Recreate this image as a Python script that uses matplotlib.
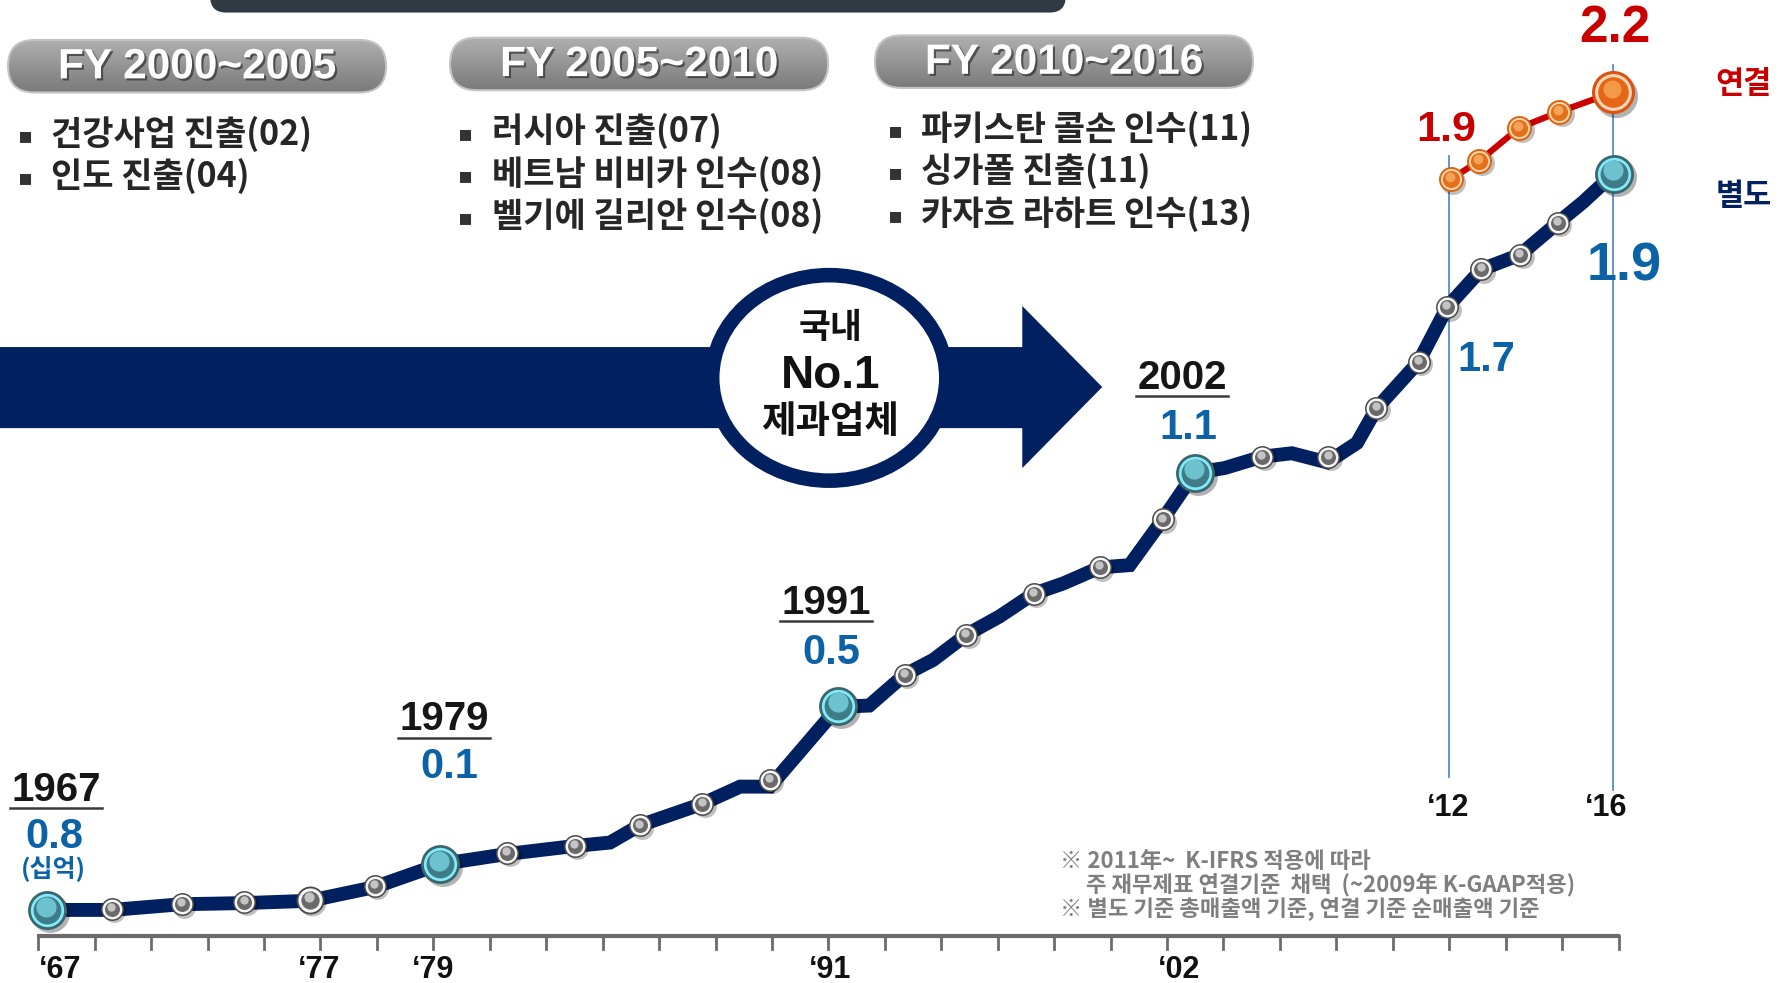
import matplotlib
matplotlib.use("Agg")
import matplotlib.pyplot as plt
import matplotlib.patheffects as pe
from matplotlib.patches import FancyBboxPatch, Ellipse, Polygon
from matplotlib.colors import LinearSegmentedColormap
from matplotlib.transforms import offset_copy
import numpy as np

KR = ['Noto Sans CJK KR', 'DejaVu Sans']
NUM = ['Liberation Sans', 'DejaVu Sans']
NAVY = '#002060'
BLUE = '#0b62a6'
RED = '#c80000'

# --- data (timeline position, height on the sketch) ---
# 별도 (separate) sales path
sep_x = [41, 98, 159, 214, 271, 328, 385, 444, 503, 534, 560, 615, 648, 674,
         734, 761, 792, 817, 846, 875, 905, 931, 963, 989, 1018, 1046, 1072,
         1105, 1131, 1162, 1188, 1205, 1213, 1242, 1267, 1297, 1331, 1364,
         1386, 1413]
sep_y = [797, 797, 792, 791, 789, 777, 757, 748, 741, 738, 723, 704, 689, 689,
         619, 618, 591, 578, 556, 540, 520, 511, 497, 495, 455, 414, 410,
         400, 397, 405, 388, 358, 349, 317, 269, 236, 223, 195,
         177, 152]

# yearly dots on the separate path
dot_x = [98, 159, 214, 328, 444, 503, 560, 615, 674, 792, 846, 905, 963, 1018,
         1105, 1163, 1205, 1242, 1267, 1297, 1331, 1364]
dot_y = [796, 792, 790, 776, 747, 741, 723, 704, 683, 591, 556, 520, 497, 455,
         400, 400, 357, 317, 269, 236, 223, 195]
mid_x, mid_y = [271], [788]          # '77

# milestones
mile_x = [41, 385, 734, 1046, 1413]
mile_y = [797, 757, 618, 414, 152]
mile_year = ['1967', '1979', '1991', '2002']
mile_val = ['0.8', '0.1', '0.5', '1.1']

# 연결 (consolidated) path 2012~2016
con_x = [1270, 1295, 1330, 1365, 1412]
con_y = [157, 141, 112, 98, 81]

axis_labels = ['\u201867', '\u201877', '\u201879', '\u201891', '\u201802']
period_titles = ['FY 2000~2005', 'FY 2005~2010', 'FY 2010~2016']
period_items = [
    ['건강사업 진출(02)', '인도 진출(04)'],
    ['러시아 진출(07)', '베트남 비비카 인수(08)', '벨기에 길리안 인수(08)'],
    ['파키스탄 콜손 인수(11)', '싱가폴 진출(11)', '카자흐 라하트 인수(13)'],
]
notes = ['※ 2011年~  K-IFRS 적용에 따라',
         '주 재무제표 연결기준  채택  (~2009年 K-GAAP적용)',
         '※ 별도 기준 총매출액 기준, 연결 기준 순매출액 기준']

fig = plt.figure(figsize=(17.91, 9.83), dpi=100)
ax = fig.add_axes([0, 0, 1, 1])
ax.set_xlim(0, 1568)
ax.set_ylim(861, 0)
ax.axis('off')


def bead(xs, ys, layers, z):
    for i, (ms, col, dx, dy) in enumerate(layers):
        tr = offset_copy(ax.transData, fig=fig, x=dx, y=dy, units='points')
        ax.plot(xs, ys, 'o', ms=ms, mfc=col, mec='none', transform=tr,
                zorder=z + i * 0.01)


def gray_dot(s=1.0):
    return [(16.5 * s, (0, 0, 0, 0.25), 1.8, -1.8), (16.5 * s, '#4a4a4a', 0, 0),
            (14.3 * s, '#f6f6f6', 0, 0), (10.8 * s, '#6a6a6a', 0, 0),
            (6 * s, '#c4c4c4', -0.6, 1.4 * s)]


# top dark banner
ax.add_patch(FancyBboxPatch((184, -40), 749, 51,
                            boxstyle="round,pad=0,rounding_size=14",
                            fc='#2f3a42', ec='none', zorder=2))

# period pills
cmap = LinearSegmentedColormap.from_list('pill', ['#b0b0b0', '#7a7a7a'])
pills = [(7, 35, 331, 46), (394, 33, 331, 46), (766, 31, 331, 46)]
for (x0, y0, w, h), title in zip(pills, period_titles):
    box = FancyBboxPatch((x0, y0), w, h,
                         boxstyle=f"round,pad=0,rounding_size={h / 2}",
                         fc='none', ec='#c4c4c4', lw=1.5, zorder=3)
    ax.add_patch(box)
    im = ax.imshow(np.linspace(0, 1, 64).reshape(-1, 1), cmap=cmap,
                   extent=(x0, x0 + w, y0 + h, y0), aspect='auto', zorder=2.5)
    im.set_clip_path(box)
    ax.text(x0 + w / 2, y0 + h / 2 + 1, title, ha='center', va='center',
            color='white', fontsize=30.5, fontweight='bold', family=NUM, zorder=4,
            path_effects=[pe.SimplePatchShadow(offset=(1.5, -1.5),
                                               shadow_rgbFace='#303030', alpha=0.7),
                          pe.Normal()])

# bullet lists
cols = [(22, 45, 117), (408, 431, 115), (784, 806, 113)]
for (bx, tx, ty), items in zip(cols, period_items):
    for k, item in enumerate(items):
        yy = ty + k * 37
        ax.text(bx, yy + 2, '\u25aa', ha='center', va='center', color='#333333',
                fontsize=16, family=['DejaVu Sans'], zorder=4)
        ax.text(tx, yy, item, ha='left', va='center', color='#262626',
                fontsize=24.5, fontweight='bold', family=KR, zorder=4)

ax.set_xlim(0, 1568)
ax.set_ylim(861, 0)

# big navy arrow with the ellipse badge
ax.add_patch(Polygon([(-5, 304), (895, 304), (895, 268), (965, 339),
                      (895, 410), (895, 375), (-5, 375)],
                     closed=True, fc=NAVY, ec='none', zorder=3))
ax.add_patch(Ellipse((726, 331), 205, 180, fc='white', ec=NAVY, lw=10.5, zorder=5))
ax.text(727, 287, '국내', ha='center', va='center', fontsize=25,
        fontweight='bold', family=KR, color='#111111', zorder=6)
ax.text(727, 329, 'No.1', ha='center', va='center', fontsize=33,
        fontweight='bold', family=NUM, color='#111111', zorder=6)
ax.text(727, 369, '제과업체', ha='center', va='center', fontsize=27,
        fontweight='bold', family=KR, color='#111111', zorder=6)

# guide lines for '12 and '16
ax.plot([con_x[0] - 1, con_x[0] - 1], [137, 681], color='#5b8bd0', lw=1.3, zorder=1)
ax.plot([con_x[-1], con_x[-1]], [57, 692], color='#5b8bd0', lw=1.3, zorder=1)

# lines
ax.plot(sep_x, sep_y, color=NAVY, lw=10, solid_joinstyle='miter',
        solid_capstyle='butt', zorder=7)
ax.plot(con_x, con_y, color='#cc0000', lw=4.5, zorder=7)

# beads
bead(dot_x, dot_y, gray_dot(), 8)
bead(mid_x, mid_y, gray_dot(1.22), 8)
bead(mile_x, mile_y, [(28, (0, 0, 0, 0.3), 2.2, -2.2), (28, '#3a666e', 0, 0),
                      (24, '#84eaf8', 0, 0), (20, '#3e7c87', 0, 0),
                      (14.5, '#6cc2ce', -0.5, 2.3)], 9)
orange_small = [(18, (0, 0, 0, 0.25), 1.8, -1.8), (18, '#de6410', 0, 0),
                (15.2, '#fbd6b0', 0, 0), (12.4, '#e4701a', 0, 0),
                (7, '#f3a458', -0.5, 1.6)]
bead(con_x[:-1], con_y[:-1], orange_small, 9)
bead(con_x[-1:], con_y[-1:], [(31, (0, 0, 0, 0.3), 2.2, -2.2), (31, '#dc5210', 0, 0),
                              (26.5, '#f9d6b6', 0, 0), (22, '#e56616', 0, 0),
                              (13, '#f39a48', -0.5, 2.8)], 9)

# milestone year + value labels
year_pos = [(49, 692), (389, 630), (723, 528), (1035, 331)]
val_pos = [(48, 733), (393, 672), (728, 572), (1040, 375)]
fig.canvas.draw()
renderer = fig.canvas.get_renderer()
for (yx, yy), yr in zip(year_pos, mile_year):
    t = ax.text(yx, yy, yr, ha='center', va='center', fontsize=29,
                fontweight='bold', family=NUM, color='#161616', zorder=6)
    bb = t.get_window_extent(renderer).transformed(ax.transData.inverted())
    ax.plot([bb.x0 - 1, bb.x1 + 1], [yy + 16, yy + 16], color='#3a3a3a', lw=1.8, zorder=6)
for (vx, vy), v in zip(val_pos, mile_val):
    ax.text(vx, vy, v, ha='center', va='center', fontsize=30,
            fontweight='bold', family=NUM, color=BLUE, zorder=6)
ax.text(47, 760, '(십억)', ha='center', va='center', fontsize=18,
        fontweight='bold', family=KR, color=BLUE, zorder=6)
ax.text(1301, 315, '1.7', ha='center', va='center', fontsize=30,
        fontweight='bold', family=NUM, color=BLUE, zorder=6)
ax.text(1422, 233, '1.9', ha='center', va='center', fontsize=39,
        fontweight='bold', family=NUM, color=BLUE, zorder=6)
ax.text(1266, 114, '1.9', ha='center', va='center', fontsize=31,
        fontweight='bold', family=NUM, color=RED, zorder=6)
ax.text(1414, 25, '2.2', ha='center', va='center', fontsize=37,
        fontweight='bold', family=NUM, color=RED, zorder=6)
ax.text(1526, 74, '연결', ha='center', va='center', fontsize=22,
        fontweight='bold', family=KR, color=RED, zorder=6)
ax.text(1527, 172, '별도', ha='center', va='center', fontsize=22,
        fontweight='bold', family=KR, color=NAVY, zorder=6)

# bottom timeline axis
ticks = np.linspace(33.5, 1417, 29)
ax.plot([ticks[0] - 1, ticks[-1] + 1], [819.5, 819.5], color='#6b6b6b', lw=3, zorder=4,
        solid_capstyle='butt')
for tx in ticks:
    ax.plot([tx, tx], [819.5, 831], color='#6b6b6b', lw=2, zorder=4)
for lab, lx in zip(axis_labels, [53, 279, 379, 727, 1032]):
    ax.text(lx, 850, lab, ha='center', va='center', fontsize=22,
            fontweight='bold', family=NUM, color='#111111')
ax.text(1268, 708, '\u201812', ha='center', va='center', fontsize=22,
        fontweight='bold', family=NUM, color='#111111')
ax.text(1406, 708, '\u201816', ha='center', va='center', fontsize=22,
        fontweight='bold', family=NUM, color='#111111')

# footnotes
for (nx, ny), note in zip([(928, 755), (951, 775), (928, 795)], notes):
    ax.text(nx, ny, note, ha='left', va='center', fontsize=16,
            fontweight='bold', family=KR, color='#7f7f7f')

fig.savefig('out.png', dpi=100)
